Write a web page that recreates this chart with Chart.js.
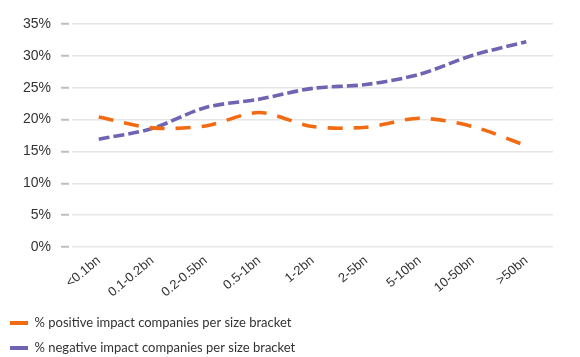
<!DOCTYPE html>
<html>
<head>
<meta charset="utf-8">
<script src="https://cdn.jsdelivr.net/npm/chart.js@4/dist/chart.umd.min.js"></script>
<style>
  html, body { margin: 0; padding: 0; background: #ffffff; }
  #wrap { width: 580px; height: 357px; position: relative; }
</style>
</head>
<body>
<div id="wrap"><canvas id="c" width="580" height="357"></canvas></div>
<script>
const categories = ['<0.1bn', '0.1-0.2bn', '0.2-0.5bn', '0.5-1bn', '1-2bn', '2-5bn', '5-10bn', '10-50bn', '>50bn'];
const positiveShare = [20.4, 18.7, 19.0, 21.1, 18.9, 18.8, 20.2, 18.9, 15.9];
const negativeShare = [16.9, 18.6, 21.9, 23.2, 24.9, 25.5, 27.1, 30.1, 32.2];
const seriesNames = ['% positive impact companies per size bracket', '% negative impact companies per size bracket'];
const yTicks = [0, 5, 10, 15, 20, 25, 30, 35];

const ORANGE = '#F26B12';
const PURPLE = '#6E64B2';

new Chart(document.getElementById('c'), {
  type: 'line',
  data: {
    labels: categories,
    datasets: [
      {
        label: seriesNames[0],
        data: positiveShare,
        borderColor: ORANGE,
        backgroundColor: ORANGE,
        borderWidth: 3.6,
        borderDash: [15, 11],
        borderCapStyle: 'butt',
        tension: 0.3,
        pointRadius: 0,
        fill: false
      },
      {
        label: seriesNames[1],
        data: negativeShare,
        borderColor: PURPLE,
        backgroundColor: PURPLE,
        borderWidth: 3.6,
        borderDash: [11, 4],
        borderCapStyle: 'butt',
        tension: 0.3,
        pointRadius: 0,
        fill: false
      }
    ]
  },
  options: {
    responsive: false,
    animation: false,
    devicePixelRatio: 1,
    layout: { padding: { top: 24, right: 27, left: -2, bottom: -7.5 } },
    plugins: {
      tooltip: { enabled: false },
      legend: {
        position: 'bottom',
        align: 'start',
        labels: {
          boxWidth: 18,
          boxHeight: 4,
          padding: 12,
          color: '#333333',
          font: { family: 'Lato', size: 13 },
          generateLabels(chart) {
            return chart.data.datasets.map((ds, i) => ({
              text: ds.label,
              fillStyle: ds.borderColor,
              strokeStyle: ds.borderColor,
              lineWidth: 0,
              lineDash: [],
              hidden: false,
              datasetIndex: i,
              fontColor: '#333333'
            }));
          }
        }
      }
    },
    scales: {
      x: {
        offset: true,
        grid: { display: false, drawTicks: false },
        border: { display: false },
        ticks: {
          color: '#333333',
          font: { family: 'Liberation Sans', size: 13 },
          minRotation: 40,
          maxRotation: 40,
          padding: 6,
          autoSkip: false
        },
        afterFit(scale) { scale.height = 57.5; }
      },
      y: {
        min: 0,
        max: 35,
        afterBuildTicks(scale) { scale.ticks = yTicks.map(v => ({ value: v })); },
        grid: {
          color: '#e6e6e6',
          lineWidth: 1.5,
          drawTicks: true,
          tickLength: 11,
          tickColor: '#bfbfbf',
          tickWidth: 2,
          tickBorderDash: [8, 3]
        },
        border: { display: false },
        ticks: {
          color: '#333333',
          font: { family: 'Liberation Sans', size: 14 },
          padding: 10,
          callback: v => v + '%'
        },
        afterFit(scale) { scale.width = 74; }
      }
    }
  }
});
</script>
</body>
</html>
